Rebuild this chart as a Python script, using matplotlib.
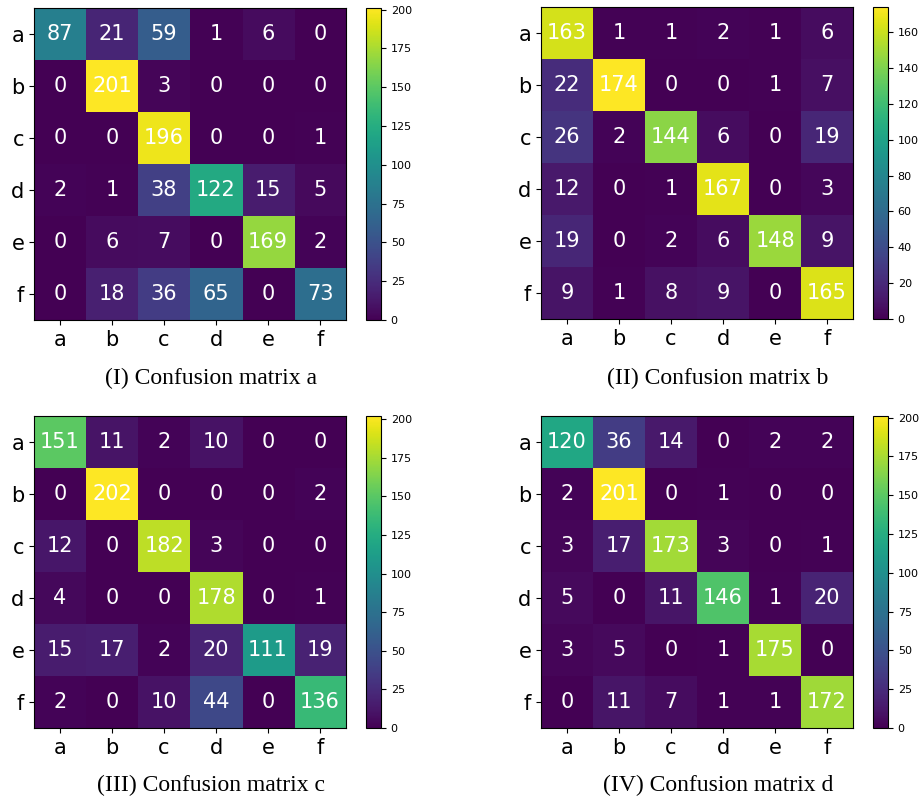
import numpy as np
import matplotlib
matplotlib.use('Agg')
import matplotlib.pyplot as plt

labels = ['a', 'b', 'c', 'd', 'e', 'f']

cm_a = np.array([[87, 21, 59, 1, 6, 0],
                 [0, 201, 3, 0, 0, 0],
                 [0, 0, 196, 0, 0, 1],
                 [2, 1, 38, 122, 15, 5],
                 [0, 6, 7, 0, 169, 2],
                 [0, 18, 36, 65, 0, 73]])

cm_b = np.array([[163, 1, 1, 2, 1, 6],
                 [22, 174, 0, 0, 1, 7],
                 [26, 2, 144, 6, 0, 19],
                 [12, 0, 1, 167, 0, 3],
                 [19, 0, 2, 6, 148, 9],
                 [9, 1, 8, 9, 0, 165]])

cm_c = np.array([[151, 11, 2, 10, 0, 0],
                 [0, 202, 0, 0, 0, 2],
                 [12, 0, 182, 3, 0, 0],
                 [4, 0, 0, 178, 0, 1],
                 [15, 17, 2, 20, 111, 19],
                 [2, 0, 10, 44, 0, 136]])

cm_d = np.array([[120, 36, 14, 0, 2, 2],
                 [2, 201, 0, 1, 0, 0],
                 [3, 17, 173, 3, 0, 1],
                 [5, 0, 11, 146, 1, 20],
                 [3, 5, 0, 1, 175, 0],
                 [0, 11, 7, 1, 1, 172]])

captions = ['(I) Confusion matrix a', '(II) Confusion matrix b',
            '(III) Confusion matrix c', '(IV) Confusion matrix d']

W, H = 921, 801
fig = plt.figure(figsize=(W / 100, H / 100), dpi=100)

# pixel boxes: heatmap left, top ; colorbar left ; caption centre
panels = [
    (cm_a, 34, 8, 366, 211, 378),
    (cm_b, 541, 7, 873, 718, 378),
    (cm_c, 34, 416, 366, 211, 785),
    (cm_d, 541, 416, 873, 718, 785),
]
size = 312
cb_w = 15

for (cm, x0, y0, cbx, cx, cy), cap in zip(panels, captions):
    ax = fig.add_axes([x0 / W, 1 - (y0 + size) / H, size / W, size / H])
    im = ax.imshow(cm, cmap='viridis', interpolation='nearest', aspect='auto')
    for i in range(cm.shape[0]):
        for j in range(cm.shape[1]):
            ax.text(j, i, str(cm[i, j]), ha='center', va='center',
                    color='white', fontsize=15)
    ax.set_xticks(np.arange(len(labels)))
    ax.set_yticks(np.arange(len(labels)))
    ax.set_xticklabels(labels, fontsize=15)
    ax.set_yticklabels(labels, fontsize=15)

    cax = fig.add_axes([cbx / W, 1 - (y0 + size) / H, cb_w / W, size / H])
    cb = fig.colorbar(im, cax=cax)
    cb.ax.tick_params(labelsize=8)

    fig.text(cx / W, 1 - cy / H, cap, ha='center', va='center',
             family='Liberation Serif', fontsize=17)

fig.savefig('out.png', dpi=100)
